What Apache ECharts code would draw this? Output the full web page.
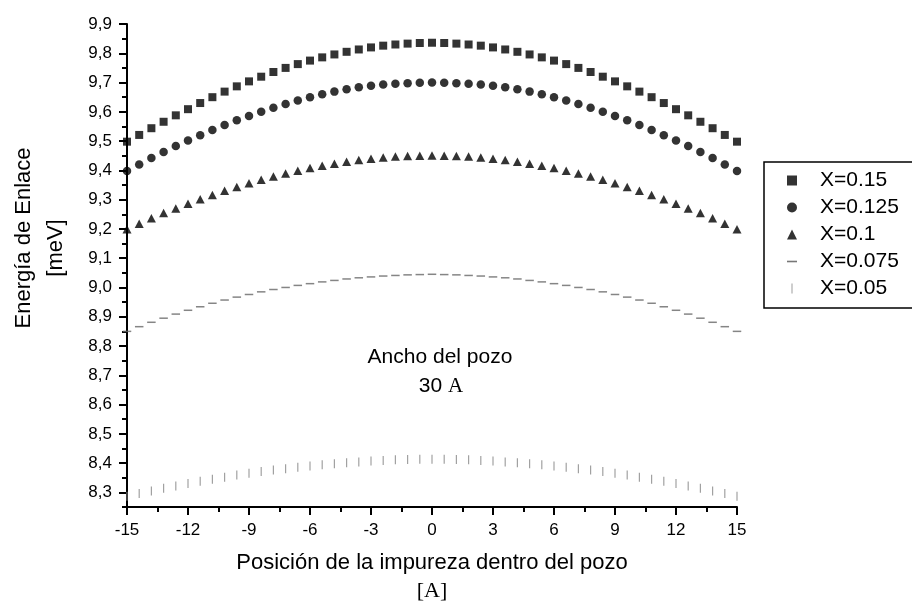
<!DOCTYPE html>
<html>
<head>
<meta charset="utf-8">
<script src="https://cdn.jsdelivr.net/npm/echarts@6/dist/echarts.min.js"></script>
<style>
html,body{margin:0;padding:0;background:#fff;}
#chart{width:912px;height:606px;}
</style>
</head>
<body>
<div id="chart"></div>
<script>
// x positions (impurity position, A)
var xPos = [-15,-14.4,-13.8,-13.2,-12.6,-12,-11.4,-10.8,-10.2,-9.6,-9,-8.4,-7.8,-7.2,-6.6,-6,-5.4,-4.8,-4.2,-3.6,-3,-2.4,-1.8,-1.2,-0.6,0,
            0.6,1.2,1.8,2.4,3,3.6,4.2,4.8,5.4,6,6.6,7.2,7.8,8.4,9,9.6,10.2,10.8,11.4,12,12.6,13.2,13.8,14.4,15];

var seriesNames = ['X=0.15','X=0.125','X=0.1','X=0.075','X=0.05'];

var valX015 = [9.498,9.521,9.544,9.566,9.588,9.609,9.630,9.650,9.669,9.687,9.704,9.720,9.736,9.750,9.763,9.775,9.786,9.796,9.805,9.813,9.820,9.826,9.830,9.833,9.835,9.836,
               9.835,9.833,9.830,9.826,9.820,9.813,9.805,9.796,9.786,9.775,9.763,9.750,9.736,9.720,9.704,9.687,9.669,9.650,9.630,9.609,9.588,9.566,9.544,9.521,9.498];
var valX0125 = [9.398,9.420,9.442,9.463,9.483,9.502,9.520,9.538,9.555,9.571,9.586,9.600,9.614,9.627,9.639,9.650,9.660,9.669,9.677,9.684,9.689,9.693,9.696,9.698,9.699,9.700,
                9.699,9.698,9.696,9.693,9.689,9.684,9.677,9.669,9.660,9.650,9.639,9.627,9.614,9.600,9.586,9.571,9.555,9.538,9.520,9.502,9.483,9.463,9.442,9.420,9.398];
var valX01 = [9.199,9.218,9.236,9.254,9.270,9.286,9.301,9.316,9.330,9.343,9.356,9.368,9.379,9.389,9.399,9.408,9.416,9.423,9.429,9.435,9.440,9.444,9.447,9.449,9.450,9.451,
              9.450,9.449,9.447,9.444,9.440,9.435,9.429,9.423,9.416,9.408,9.399,9.389,9.379,9.368,9.356,9.343,9.330,9.316,9.301,9.286,9.270,9.254,9.236,9.218,9.199];
var valX0075 = [8.850,8.866,8.881,8.895,8.909,8.922,8.934,8.946,8.957,8.967,8.976,8.985,8.993,9.000,9.007,9.013,9.019,9.024,9.029,9.033,9.036,9.039,9.041,9.043,9.044,9.045,
                9.044,9.043,9.041,9.039,9.036,9.033,9.029,9.024,9.019,9.013,9.007,9.000,8.993,8.985,8.976,8.967,8.957,8.946,8.934,8.922,8.909,8.895,8.881,8.866,8.850];
var valX005 = [8.287,8.296,8.305,8.314,8.322,8.330,8.338,8.345,8.352,8.359,8.365,8.371,8.376,8.381,8.386,8.390,8.394,8.398,8.401,8.404,8.407,8.409,8.411,8.412,8.413,8.413,
               8.413,8.412,8.411,8.409,8.407,8.404,8.401,8.398,8.394,8.390,8.386,8.381,8.376,8.371,8.365,8.359,8.352,8.345,8.338,8.330,8.322,8.314,8.305,8.296,8.287];

// tick labels
var yTicks = [8.3,8.4,8.5,8.6,8.7,8.8,8.9,9.0,9.1,9.2,9.3,9.4,9.5,9.6,9.7,9.8,9.9];
var yMinorTicks = [8.25,8.35,8.45,8.55,8.65,8.75,8.85,8.95,9.05,9.15,9.25,9.35,9.45,9.55,9.65,9.75,9.85];
var xTicks = [-15,-12,-9,-6,-3,0,3,6,9,12,15];

function pairs(vals){ return xPos.map(function(x,i){ return [x, vals[i]]; }); }

var SANS = 'Liberation Sans, Arial, sans-serif';
var SERIF = 'Liberation Serif, Times New Roman, serif';

var chart = echarts.init(document.getElementById('chart'), null, {renderer:'canvas'});

var dashIcon = 'path://M0,0M10,10M0,4.2H10V5.8H0Z';
var barIcon = 'path://M0,0M10,10M4.4,0H5.6V10H4.4Z';

var option = {
  animation: false,
  backgroundColor: '#fff',
  grid: {left:127, right:175, top:24, bottom:99, containLabel:false},
  xAxis: {
    type:'value', min:-15, max:15, interval:3,
    axisLine:{show:true, onZero:false, lineStyle:{color:'#000', width:2}},
    axisTick:{show:true, inside:false, length:8, lineStyle:{color:'#000', width:2}},
    minorTick:{show:true, splitNumber:2, length:5, lineStyle:{color:'#000', width:2}},
    splitLine:{show:false},
    axisLabel:{color:'#000', fontFamily:SANS, fontSize:17, margin:15,
      customValues: xTicks,
      formatter:function(v){ return String(v); }}
  },
  yAxis: [{
    type:'value', min:8.25, max:9.9, position:'left',
    axisLine:{show:true, onZero:false, lineStyle:{color:'#000', width:2}},
    axisTick:{show:true, length:8, customValues:yTicks, lineStyle:{color:'#000', width:2}},
    splitLine:{show:false},
    axisLabel:{color:'#000', fontFamily:SANS, fontSize:17, margin:15,
      customValues: yTicks,
      formatter:function(v){ return v.toFixed(1).replace('.', ','); }}
  },{
    type:'value', min:8.25, max:9.9, position:'left', offset:0,
    axisLine:{show:false, onZero:false},
    axisTick:{show:true, length:5, customValues:yMinorTicks, lineStyle:{color:'#000', width:2}},
    axisLabel:{show:false},
    splitLine:{show:false}
  }],
  legend: {
    orient:'vertical', left:764, top:162,
    borderColor:'#000', borderWidth:1.5, borderRadius:0,
    padding:[7, 19, 8, 23],
    itemGap:4, itemWidth:10, itemHeight:10,
    textStyle:{color:'#000', fontFamily:SANS, fontSize:21, padding:[0,0,0,18], lineHeight:23},
    data:[
      {name:seriesNames[0], icon:'rect'},
      {name:seriesNames[1], icon:'circle'},
      {name:seriesNames[2], icon:'triangle'},
      {name:seriesNames[3], icon:dashIcon, itemStyle:{color:'#555'}},
      {name:seriesNames[4], icon:barIcon, itemStyle:{color:'#999'}}
    ]
  },
  graphic: [
    {type:'text', x:440, y:357, z:10,
     style:{text:'Ancho del pozo', fill:'#000', font:'21px '+SANS, textAlign:'center', textVerticalAlign:'middle'}},
    {type:'text', x:441, y:386, z:10,
     style:{text:'{a|30 }{b|A}', textAlign:'center', textVerticalAlign:'middle',
       rich:{a:{fontFamily:SANS, fontSize:21, color:'#000'}, b:{fontFamily:SERIF, fontSize:21, color:'#000'}}}},
    {type:'text', x:24, y:238, rotation:Math.PI/2, z:10,
     style:{text:'Energía de Enlace', fill:'#000', font:'22px '+SANS, textAlign:'center', textVerticalAlign:'middle'}},
    {type:'text', x:56, y:248, rotation:Math.PI/2, z:10,
     style:{text:'[meV]', fill:'#000', font:'22px '+SANS, textAlign:'center', textVerticalAlign:'middle'}},
    {type:'text', x:432, y:563, z:10,
     style:{text:'Posición de la impureza dentro del pozo', fill:'#000', font:'22px '+SANS, textAlign:'center', textVerticalAlign:'middle'}},
    {type:'text', x:432, y:591, z:10,
     style:{text:'[A]', fill:'#000', font:'22px '+SERIF, textAlign:'center', textVerticalAlign:'middle'}}
  ],
  series: [
    {name:seriesNames[0], type:'scatter', data:pairs(valX015), symbol:'rect', symbolSize:8,
     itemStyle:{color:'#000'}},
    {name:seriesNames[1], type:'scatter', data:pairs(valX0125), symbol:'circle', symbolSize:8.5,
     itemStyle:{color:'#000'}},
    {name:seriesNames[2], type:'scatter', data:pairs(valX01), symbol:'triangle', symbolSize:[9,8.5],
     itemStyle:{color:'#000'}},
    {name:seriesNames[3], type:'scatter', data:pairs(valX0075), symbol:'rect', symbolSize:[8.5,1.5],
     itemStyle:{color:'#666'}},
    {name:seriesNames[4], type:'scatter', data:pairs(valX005), symbol:'rect', symbolSize:[1.2,9],
     itemStyle:{color:'#8a8a8a'}}
  ]
};
chart.setOption(option);
</script>
</body>
</html>
